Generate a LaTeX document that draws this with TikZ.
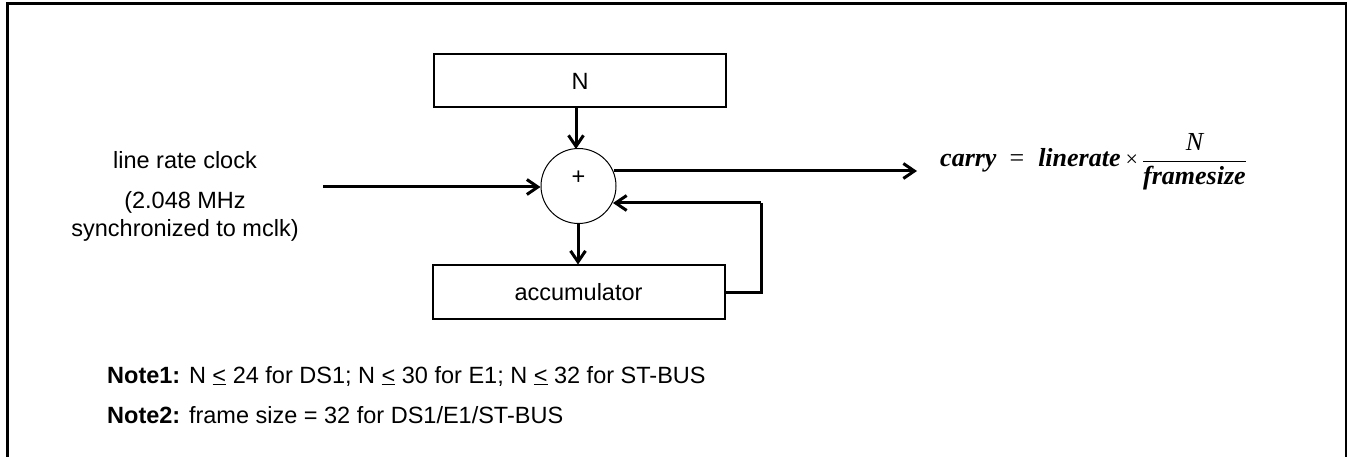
\documentclass[tikz,border=0pt]{standalone}
\usepackage{fontspec}
\setmainfont{Liberation Sans}
\newfontfamily\formfont{Liberation Serif}
\usetikzlibrary{arrows.meta}
\begin{document}
\begin{tikzpicture}[x=1pt,y=-1pt,
  txt/.style={font=\fontsize{23.5}{28}\selectfont, inner sep=0pt},
  blk/.style={draw, line width=2pt, minimum width=292pt, minimum height=53pt, inner sep=0pt, font=\fontsize{23.5}{28}\selectfont},
  sumnode/.style={draw, circle, line width=1pt, minimum size=75pt, inner sep=0pt},
  conn/.style={line width=3pt, -{Straight Barb[length=11pt,width=15pt,line width=3pt]}},
  frame/.style={line width=3pt}]
\useasboundingbox (0,0) rectangle (1347,457);
\draw[frame] (7,460) -- (7,4) -- (1346,4) -- (1346,460);
\node[blk] (N) at (580,81) {N};
\node[sumnode] (S) at (578.5,186) {};
\node[txt] (plus) at (578.5,178) {+};
\node[blk] (A) at (578.5,292) {accumulator};
\node[txt] (lbl1) at (185,160) {line rate clock};
\node[txt] (lbl2) at (185,202) {(2.048 MHz};
\node[txt] (lbl3) at (185,230) {synchronized to mclk)};
\coordinate (in) at (323,187);
\coordinate (out) at (917,171);
\coordinate (fbR) at (761,292);
\coordinate (fbT) at (761,203);
\draw[conn] (N.south -| 576,0) -- (576,149);
\draw[conn] (in) -- (S.west |- in);
\draw[conn] (S.south -| 578,0) -- (A.north -| 578,0);
\draw[conn] (S.east |- 0,171) ++(-2.5,0) -- (out);
\draw[line width=3pt] (A.east) -- (fbR) -- (fbT);
\draw[conn] (fbT) -- (613,203);
\node[anchor=base west, inner sep=0pt, font=\formfont\fontsize{26}{30}\selectfont] (form) at (940,167)
  {\textbf{\textit{carry}}\hspace{13pt}=\hspace{14pt}\textbf{\textit{linerate}}\hspace{5pt}{\fontsize{22}{26}\selectfont ×}\hspace{4pt}$\displaystyle\frac{\mbox{\formfont\itshape N}}{\mbox{\formfont\bfseries\itshape framesize}}$};
\node[txt, anchor=base west] (n1) at (107,383) {\textbf{Note1:} N \underline{<} 24 for DS1; N \underline{<} 30 for E1; N \underline{<} 32 for ST-BUS};
\node[txt, anchor=base west] (n2) at (107,423) {\textbf{Note2:} frame size = 32 for DS1/E1/ST-BUS};
\end{tikzpicture}
\end{document}
